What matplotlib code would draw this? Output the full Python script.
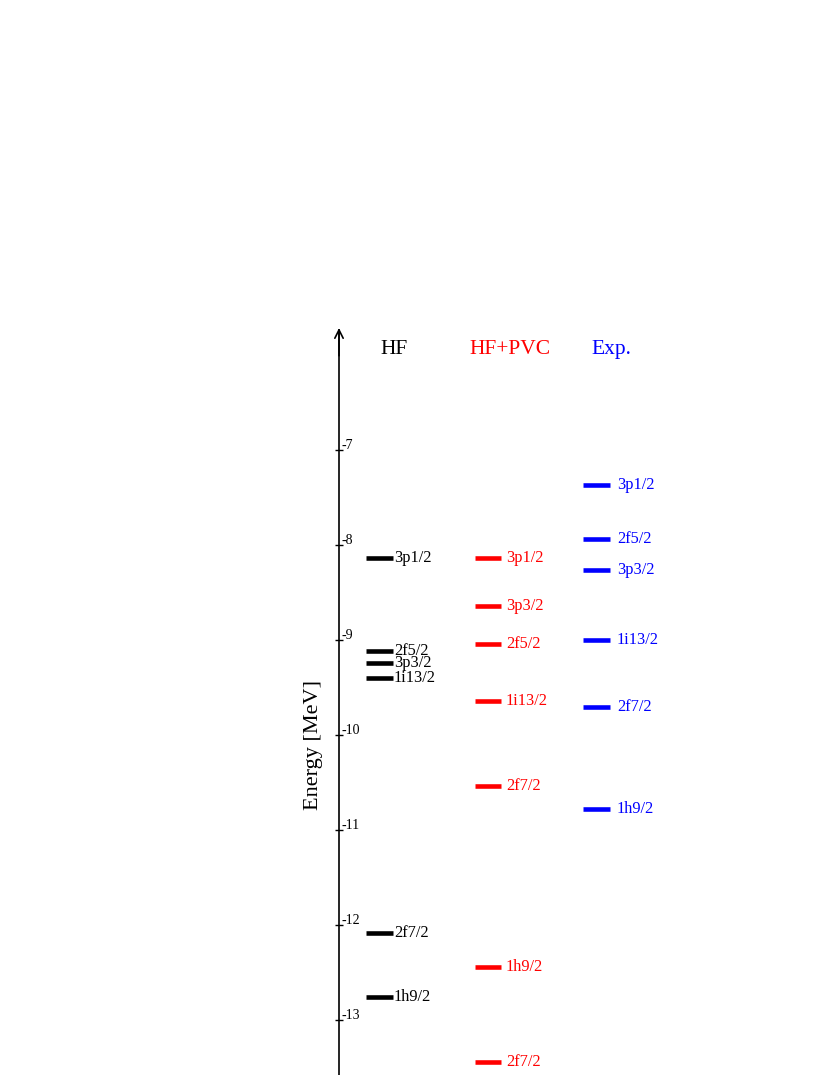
import numpy as np
import matplotlib.pyplot as plt

plt.rcParams['font.family'] = ['Liberation Serif', 'DejaVu Serif']

# single-particle levels [MeV]
hf_labels = ['3p1/2', '2f5/2', '3p3/2', '1i13/2', '2f7/2', '1h9/2']
hf_E = [-8.14, -9.12, -9.24, -9.40, -12.08, -12.76]

pvc_labels = ['3p1/2', '3p3/2', '2f5/2', '1i13/2', '2f7/2', '1h9/2', '2f7/2']
pvc_E = [-8.14, -8.64, -9.04, -9.64, -10.54, -12.44, -13.44]

exp_labels = ['3p1/2', '2f5/2', '3p3/2', '1i13/2', '2f7/2', '1h9/2']
exp_E = [-7.37, -7.94, -8.26, -9.00, -9.70, -10.78]

ticks = [-7, -8, -9, -10, -11, -12, -13]

# pixel-like x layout, energy on y
E_top = -7 + 450 / 95.
E_bot = -7 - 625 / 95.
E_arrow = -7 + 120 / 95.

fig = plt.figure(figsize=(8.3, 10.75), dpi=100)
ax = fig.add_axes([0, 0, 1, 1])
ax.set_xlim(0, 830)
ax.set_ylim(E_bot, E_top)

for s in ['top', 'right', 'bottom']:
    ax.spines[s].set_visible(False)
ax.spines['left'].set_position(('data', 339))
ax.spines['left'].set_bounds(E_bot, E_arrow)
ax.spines['left'].set_linewidth(1.2)
ax.set_xticks([])
ax.set_yticks(ticks)
ax.set_yticklabels([])
ax.tick_params(axis='y', direction='inout', length=6, width=1)
for t in ticks:
    ax.text(341, t + 0.01, str(t), fontsize=10, ha='left', va='baseline')

ax.annotate('', xy=(339, E_arrow + 0.05), xytext=(339, E_arrow - 0.3),
            arrowprops=dict(arrowstyle='->', lw=1.2, color='black',
                            mutation_scale=15))

ax.text(313, -10.1, 'Energy [MeV]', rotation=90, fontsize=16,
        ha='center', va='center')

cols = [(366, 393, 'black', hf_labels, hf_E, 394, 'HF', 394),
        (475, 501, 'red', pvc_labels, pvc_E, 506, 'HF+PVC', 510),
        (583, 610, 'blue', exp_labels, exp_E, 617, 'Exp.', 611)]

for x0, x1, c, labs, E, xl, title, xt in cols:
    ax.hlines(E, x0, x1, colors=c, lw=3.3)
    for lab, e in zip(labs, E):
        ax.text(xl, e, lab, color=c, fontsize=11.8, ha='left', va='center')
    ax.text(xt, -7 + 101 / 95., title, color=c, fontsize=15.5,
            ha='center', va='center')

fig.savefig('out.png', dpi=100)
